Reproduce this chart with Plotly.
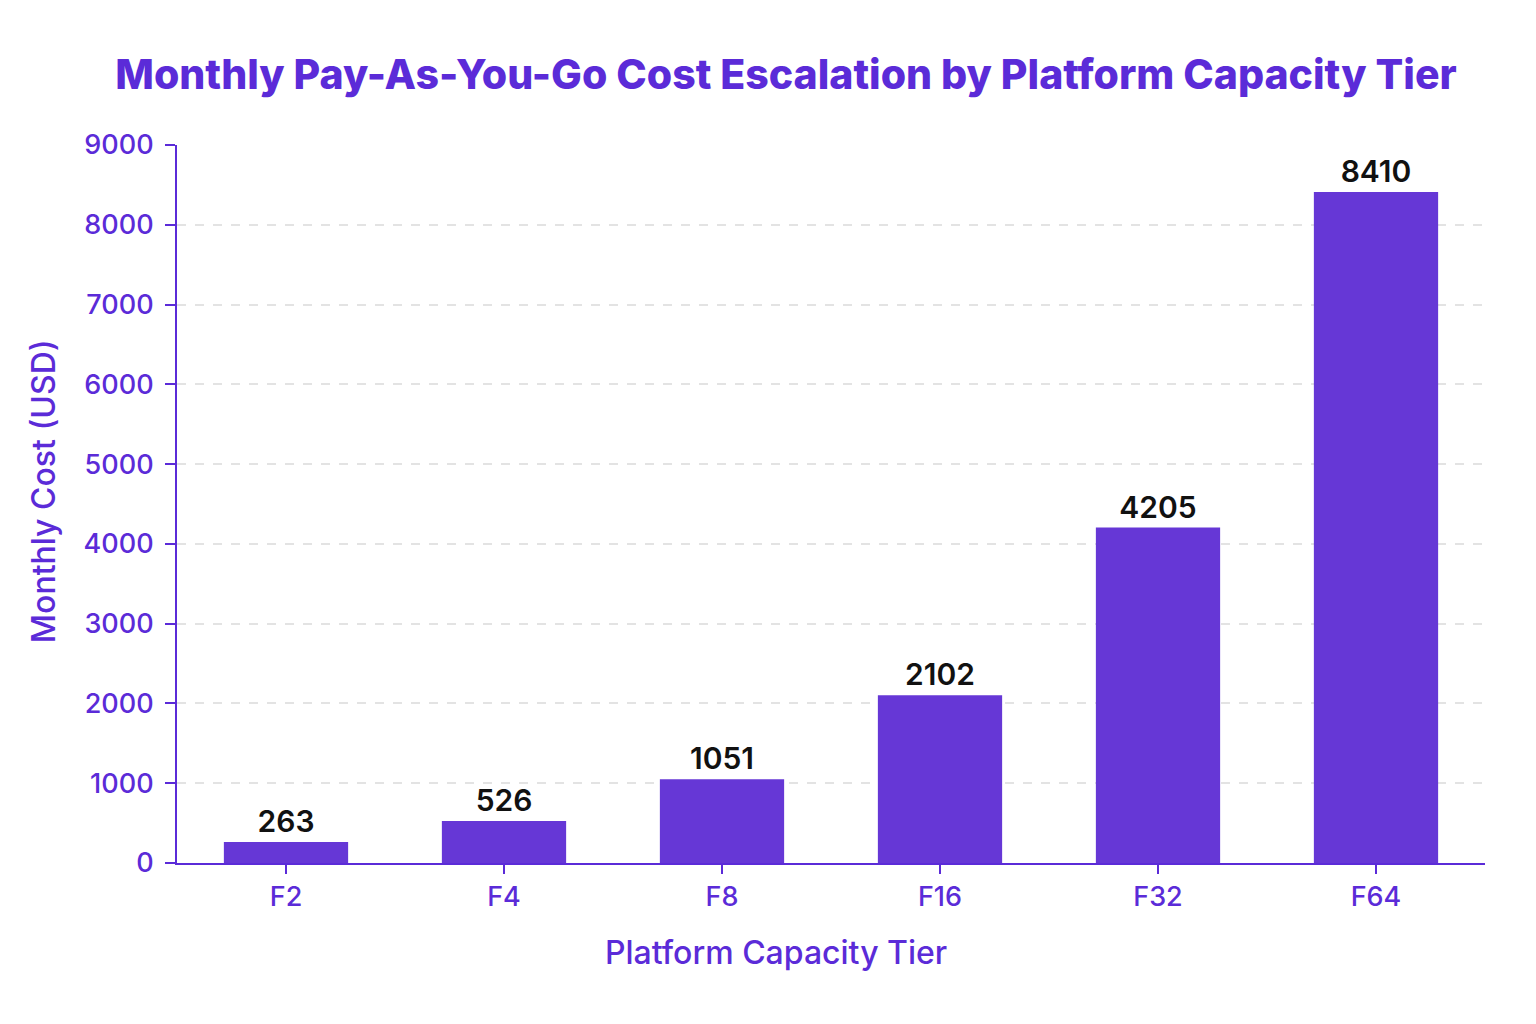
import plotly.graph_objects as go

tiers = ["F2", "F4", "F8", "F16", "F32", "F64"]
costs = [263, 526, 1051, 2102, 4205, 8410]
y_ticks = [0, 1000, 2000, 3000, 4000, 5000, 6000, 7000, 8000, 9000]

accent = "#5b2bd8"
bar_color = "#6637d6"

fig = go.Figure(go.Bar(
    x=tiers, y=costs,
    marker=dict(color=bar_color, line=dict(width=0)),
    text=[str(c) for c in costs],
    textposition="outside",
    textfont=dict(family="Inter", size=30, color="#111111", weight=600),
    cliponaxis=False,
))

fig.update_layout(
    width=1536, height=1024,
    paper_bgcolor="white", plot_bgcolor="white",
    margin=dict(l=169, r=59, t=137, b=169),
    bargap=0.43,
    title=dict(
        text="Monthly Pay-As-You-Go Cost Escalation by Platform Capacity Tier",
        x=0.5065, xanchor="center", y=0.9346, yanchor="middle",
        font=dict(family="Inter", size=41, color=accent, weight=800),
    ),
    font=dict(family="Inter", color=accent),
    showlegend=False,
    annotations=[
        dict(text="Platform Capacity Tier", xref="paper", yref="paper",
             x=0.458, y=-0.1253, xanchor="center", yanchor="middle",
             showarrow=False, font=dict(family="Inter", size=32, color=accent, weight=500)),
        dict(text="Monthly Cost (USD)", xref="paper", yref="paper",
             x=-0.1024, y=0.518, xanchor="center", yanchor="middle", textangle=-90,
             showarrow=False, font=dict(family="Inter", size=32, color=accent, weight=500)),
    ],
)
fig.update_xaxes(
    tickfont=dict(size=27, color=accent, weight=500),
    showline=True, linecolor=accent, linewidth=2,
    ticks="outside", tickcolor=accent, ticklen=9, tickwidth=2,
    showgrid=False,
)
fig.update_yaxes(
    tickfont=dict(size=27, color=accent, weight=500),
    range=[0, 9000], tickvals=y_ticks,
    showline=True, linecolor=accent, linewidth=2,
    ticks="outside", tickcolor=accent, ticklen=10, tickwidth=2,
    ticklabelstandoff=6,
    showgrid=True, gridcolor="#e3e3e3", griddash="dash", gridwidth=1.5,
    zeroline=False,
)

fig.write_html("out.html")
